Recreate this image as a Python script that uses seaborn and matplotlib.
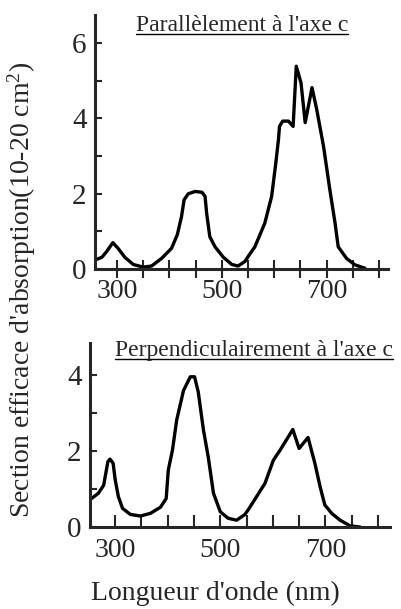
import numpy as np
import pandas as pd
import seaborn as sns
import matplotlib
matplotlib.use("Agg")
import matplotlib.pyplot as plt
from matplotlib.lines import Line2D

# Absorption cross-section, light polarised parallel to the c axis
wl_par = [258, 271, 280, 292, 302, 315, 331, 350, 366, 385, 404, 415, 423, 428,
          436, 449, 462, 468, 471, 477, 487, 503, 519, 531, 544, 552, 563, 582,
          595, 603, 608, 610, 616, 627, 636, 642, 651, 659, 672, 681, 694, 706,
          716, 722, 738, 754, 773]
abs_par = [0.24, 0.31, 0.46, 0.70, 0.55, 0.31, 0.12, 0.05, 0.08, 0.28, 0.55, 0.91,
           1.39, 1.84, 2.00, 2.06, 2.04, 1.93, 1.48, 0.86, 0.59, 0.31, 0.12, 0.08,
           0.20, 0.37, 0.59, 1.22, 1.93, 2.82, 3.44, 3.79, 3.93, 3.93, 3.79, 5.39,
           4.95, 3.89, 4.82, 4.24, 3.26, 2.11, 1.22, 0.59, 0.28, 0.11, 0.02]

# Absorption cross-section, light polarised perpendicular to the c axis
wl_perp = [252, 268, 278, 282, 286, 290, 296, 300, 306, 314, 329, 348, 367, 386,
           397, 401, 409, 417, 430, 443, 451, 458, 468, 477, 487, 500, 515, 531,
           546, 553, 569, 585, 601, 614, 638, 650, 667, 680, 690, 699, 712, 728,
           747, 766]
abs_perp = [0.72, 0.89, 1.10, 1.41, 1.72, 1.79, 1.68, 1.24, 0.80, 0.49, 0.33, 0.29,
            0.36, 0.52, 0.75, 1.50, 2.03, 2.82, 3.60, 3.96, 3.96, 3.56, 2.55, 1.85,
            0.89, 0.40, 0.23, 0.18, 0.32, 0.45, 0.80, 1.15, 1.76, 2.03, 2.57, 2.07,
            2.36, 1.68, 1.06, 0.58, 0.36, 0.18, 0.03, 0.0]

x_ticks = list(range(300, 801, 50))
x_labels = ["300", "", "", "", "500", "", "", "", "700", "", ""]
y_ticks_par = [0, 1, 2, 3, 4, 5, 6]
y_labels_par = ["0", "", "2", "", "4", "", "6"]
y_ticks_perp = [0, 1, 2, 3, 4]
y_labels_perp = ["0", "", "2", "", "4"]

title_par = "Parallèlement à l'axe c"
title_perp = "Perpendiculairement à l'axe c"
y_title = "Section efficace d'absorption(10-20 cm$^{2}$)"
x_title = "Longueur d'onde (nm)"

sns.set_style("ticks")
plt.rcParams["font.family"] = ["Liberation Serif", "DejaVu Serif"]
plt.rcParams["mathtext.fontset"] = "custom"
plt.rcParams["mathtext.rm"] = "Liberation Serif"
plt.rcParams["mathtext.it"] = "Liberation Serif"

W, H = 402, 609
fig = plt.figure(figsize=(W / 100, H / 100), dpi=100)

def frac_box(left, top, right, bottom):
    return [left / W, 1 - bottom / H, (right - left) / W, (bottom - top) / H]

ax1 = fig.add_axes(frac_box(95, 15, 388, 269))
ax2 = fig.add_axes(frac_box(90, 343, 390, 527))

df_par = pd.DataFrame({"wl": wl_par, "abs": abs_par})
df_perp = pd.DataFrame({"wl": wl_perp, "abs": abs_perp})

line_kw = dict(color="black", lw=2.4, sort=False, estimator=None,
               solid_joinstyle="round", solid_capstyle="round")
sns.lineplot(data=df_par, x="wl", y="abs", ax=ax1, **line_kw)
sns.lineplot(data=df_perp, x="wl", y="abs", ax=ax2, **line_kw)

ax1.set_xlim(258, 817)
ax1.set_ylim(0, 6.75)
ax2.set_xlim(252, 823)
ax2.set_ylim(0, 4.85)

for ax in (ax1, ax2):
    sns.despine(ax=ax)
    ax.spines["left"].set_linewidth(2.2)
    ax.spines["bottom"].set_linewidth(2.2)
    ax.set_xlabel("")
    ax.set_ylabel("")
    ax.set_xticks(x_ticks)
    ax.set_xticklabels(x_labels)
    ax.tick_params(axis="y", direction="in", length=5, width=1.5,
                   labelsize=21, pad=6)

ax1.set_yticks(y_ticks_par)
ax1.set_yticklabels(y_labels_par)
ax2.set_yticks(y_ticks_perp)
ax2.set_yticklabels(y_labels_perp)

ax1.tick_params(axis="x", direction="inout", length=13, width=1.5,
                labelsize=20, pad=1)
ax2.tick_params(axis="x", direction="in", length=8.5, width=1.5,
                labelsize=20, pad=8)

fig.text(22 / W, 1 - 290 / H, y_title, rotation=90, ha="center", va="center",
         fontsize=20)
fig.text(215 / W, 1 - 593 / H, x_title, ha="center", va="center", fontsize=20)

# Underlined panel titles
fig.canvas.draw()
renderer = fig.canvas.get_renderer()
for txt, xc, ybase in ((title_par, 242, 31), (title_perp, 254, 356)):
    t = fig.text(xc / W, 1 - ybase / H, txt, ha="center", va="baseline",
                 fontsize=17)
    bb = t.get_window_extent(renderer)
    yl = 1 - (ybase + 2.5) / H
    fig.add_artist(Line2D([bb.x0 / W, bb.x1 / W], [yl, yl],
                          transform=fig.transFigure, color="black", lw=1.0))

fig.savefig("out.png", dpi=100)
